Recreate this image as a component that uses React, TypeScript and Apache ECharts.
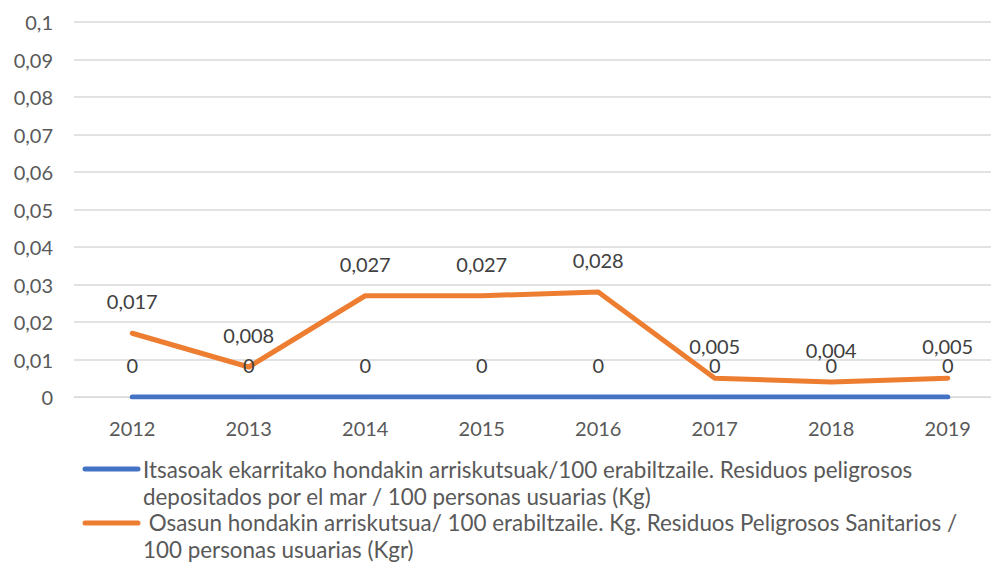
import React, { useEffect, useRef } from "react";
import * as echarts from "echarts";

const years = ["2012", "2013", "2014", "2015", "2016", "2017", "2018", "2019"];
const seaWaste = [0, 0, 0, 0, 0, 0, 0, 0];
const healthWaste = [0.017, 0.008, 0.027, 0.027, 0.028, 0.005, 0.004, 0.005];
const yTickLabels = ["0", "0,01", "0,02", "0,03", "0,04", "0,05", "0,06", "0,07", "0,08", "0,09", "0,1"];
const seriesNames = [
  "Itsasoak ekarritako hondakin arriskutsuak/100 erabiltzaile. Residuos peligrosos depositados por el mar / 100 personas usuarias (Kg)",
  " Osasun hondakin arriskutsua/ 100 erabiltzaile. Kg. Residuos Peligrosos Sanitarios / 100 personas usuarias (Kgr)",
];
const legendLines = [
  ["Itsasoak ekarritako hondakin arriskutsuak/100 erabiltzaile. Residuos peligrosos", "depositados por el mar / 100 personas usuarias (Kg)"],
  [" Osasun hondakin arriskutsua/ 100 erabiltzaile. Kg. Residuos Peligrosos Sanitarios /", "100 personas usuarias (Kgr)"],
];
const colors = ["#4472C4", "#ED7D31"];

const FONT = "Lato, 'Open Sans', sans-serif";

export default function App() {
  const ref = useRef<HTMLDivElement>(null);
  useEffect(() => {
    document.body.style.margin = "0";
    document.body.style.overflow = "hidden";
    const chart = echarts.init(ref.current!, null, { renderer: "svg" });
    const fmt = (p: any) => String(p.value).replace(".", ",");
    const labelStyle = {
      show: true,
      position: "top" as const,
      distance: 21,
      fontSize: 20,
      fontFamily: FONT,
      color: "#404040",
      formatter: fmt,
    };
    const legendGraphics: any[] = [];
    const legendTops = [456, 509];
    const legendLineY = [469, 523];
    legendLines.forEach((lines, i) => {
      legendGraphics.push({
        type: "line",
        shape: { x1: 85, y1: legendLineY[i], x2: 138, y2: legendLineY[i] },
        style: { stroke: colors[i], lineWidth: 5, lineCap: "round" },
      });
      legendGraphics.push({
        type: "text",
        x: 143,
        y: legendTops[i],
        style: {
          text: lines.join("\n"),
          fontSize: 22.4,
          lineHeight: 27,
          fontFamily: FONT,
          fill: "#595959",
        },
      });
    });
    chart.setOption({
      animation: false,
      backgroundColor: "#ffffff",
      grid: { left: 74, right: 0, top: 22, bottom: 165, containLabel: false, outerBoundsMode: "none" },
      xAxis: {
        type: "category",
        data: years,
        boundaryGap: true,
        axisLine: { show: true, lineStyle: { color: "#D9D9D9", width: 1 } },
        axisTick: { show: false },
        axisLabel: { fontSize: 20, fontFamily: FONT, color: "#595959", margin: 21 },
      },
      yAxis: {
        type: "value",
        min: 0,
        max: 0.1,
        interval: 0.01,
        axisLine: { show: false },
        axisTick: { show: false },
        splitLine: { lineStyle: { color: "#D9D9D9", width: 1.5 } },
        axisLabel: {
          fontSize: 20,
          fontFamily: FONT,
          color: "#595959",
          margin: 21,
          formatter: (_v: number, idx: number) => yTickLabels[idx],
        },
      },
      series: [
        {
          name: seriesNames[0],
          type: "line",
          data: seaWaste,
          symbol: "circle",
          symbolSize: 2,
          itemStyle: { color: colors[0] },
          lineStyle: { color: colors[0], width: 5, cap: "round", join: "round" },
          label: labelStyle,
          z: 3,
        },
        {
          name: seriesNames[1],
          type: "line",
          data: healthWaste,
          symbol: "circle",
          symbolSize: 2,
          itemStyle: { color: colors[1] },
          lineStyle: { color: colors[1], width: 5, cap: "round", join: "round" },
          label: labelStyle,
          z: 2,
        },
      ],
      graphic: legendGraphics,
    });
    return () => chart.dispose();
  }, []);
  return <div ref={ref} style={{ width: 1006, height: 562 }} />;
}
